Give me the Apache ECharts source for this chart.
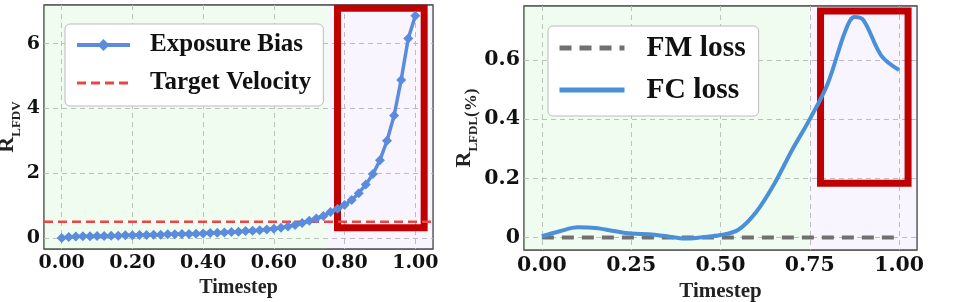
<!DOCTYPE html>
<html><head><meta charset="utf-8">
<script src="https://cdn.jsdelivr.net/npm/echarts@6/dist/echarts.min.js"></script>
<style>html,body{margin:0;padding:0;background:#fff}#c{width:961px;height:302px}</style>
</head><body><div id="c"></div>
<script>
// ---- Left panel data ----
const leftX = [0.00,0.02,0.04,0.06,0.08,0.10,0.12,0.14,0.16,0.18,0.20,0.22,0.24,0.26,0.28,0.30,0.32,0.34,0.36,0.38,0.40,0.42,0.44,0.46,0.48,0.50,0.52,0.54,0.56,0.58,0.60,0.62,0.64,0.66,0.68,0.70,0.72,0.74,0.76,0.78,0.80,0.82,0.84,0.86,0.88,0.90,0.92,0.94,0.96,0.98,1.00];
const exposureBias = [0.00,0.03,0.04,0.05,0.05,0.06,0.06,0.07,0.07,0.08,0.08,0.09,0.09,0.10,0.10,0.11,0.11,0.12,0.12,0.13,0.14,0.15,0.16,0.17,0.18,0.19,0.21,0.22,0.24,0.26,0.28,0.31,0.35,0.40,0.46,0.53,0.60,0.68,0.80,0.90,1.02,1.17,1.38,1.65,1.97,2.40,3.00,3.78,4.88,6.16,6.86];
const targetVelocity = 0.5;
const leftXTicks = [0, 0.2, 0.4, 0.6, 0.8, 1.0];
const leftYTicks = [0, 2, 4, 6];
const leftXRange = [-0.05, 1.05];
const leftYRange = [-0.3425, 7.1925];
const leftStageSplit = 0.75;
const leftBox = [[0.78, 7.09], [1.025, 0.31]];

// ---- Right panel data ----
const fcX = [0.00,0.05,0.10,0.15,0.20,0.25,0.30,0.35,0.40,0.45,0.50,0.55,0.60,0.65,0.70,0.75,0.80,0.85,0.875,0.90,0.95,1.00];
const fcLoss = [0.004,0.021,0.034,0.032,0.022,0.013,0.011,0.004,-0.004,0.001,0.008,0.026,0.086,0.18,0.295,0.40,0.52,0.70,0.745,0.735,0.615,0.566];
const fmX = [0.00, 1.00];
const fmLoss = [0, 0];
const rightXTicks = [0, 0.25, 0.5, 0.75, 1.0];
const rightYTicks = [0, 0.2, 0.4, 0.6];
const rightXRange = [-0.05, 1.05];
const rightYRange = [-0.0425, 0.7825];
const rightStageSplit = 0.75;
const rightBox = [[0.78, 0.766], [1.025, 0.183]];

const SERIF = 'Liberation Serif';
const TICKFONT = 'DejaVu Serif';
const green = 'rgba(190,240,190,0.22)';
const purple = 'rgba(215,200,250,0.18)';
const boxRed = '#c00000';

function zip(a, b) { return a.map((v, i) => [v, b[i]]); }

function xAxisCfg(idx, range, ticks, fs, name, nameFs, digits, margin, gap) {
  return {
    type: 'value', gridIndex: idx, min: range[0], max: range[1],
    name: name, nameLocation: 'middle', nameGap: gap,
    nameTextStyle: { fontFamily: SERIF, fontWeight: 'bold', fontSize: nameFs, color: '#222' },
    axisLine: { show: false }, axisTick: { show: false, customValues: ticks },
    axisLabel: { customValues: ticks, margin: margin, fontFamily: TICKFONT, fontWeight: 'bold', fontSize: fs, color: '#111',
      formatter: v => v.toFixed(digits) },
    splitLine: { show: true, lineStyle: { color: '#b8b8b8', type: [5, 4], width: 1 } }
  };
}
function yAxisCfg(idx, range, ticks, fs, name, gap, fmt) {
  return {
    type: 'value', gridIndex: idx, min: range[0], max: range[1],
    name: name, nameLocation: 'middle', nameGap: gap, nameRotate: 90,
    nameTextStyle: { fontFamily: SERIF, fontWeight: 'bold', color: '#222',
      rich: {
        R: { fontFamily: SERIF, fontWeight: 'bold', fontSize: 22, color: '#222', verticalAlign: 'bottom', padding: [0, 0, 5, 0] },
        s: { fontFamily: SERIF, fontWeight: 'bold', fontSize: 13, color: '#222', verticalAlign: 'bottom' },
        p: { fontFamily: SERIF, fontWeight: 'bold', fontSize: 17, color: '#222', verticalAlign: 'bottom' }
      } },
    axisLine: { show: false }, axisTick: { show: false, customValues: ticks },
    axisLabel: { customValues: ticks, margin: 4, fontFamily: TICKFONT, fontWeight: 'bold', fontSize: fs, color: '#111', formatter: fmt },
    splitLine: { show: true, lineStyle: { color: '#b8b8b8', type: [5, 4], width: 1 } }
  };
}

function bgSeries(xi, yi, range, split) {
  return {
    type: 'line', xAxisIndex: xi, yAxisIndex: yi, data: [], silent: true, z: 1,
    markArea: { silent: true, data: [
      [{ xAxis: range[0], itemStyle: { color: green } }, { xAxis: split }],
      [{ xAxis: split, itemStyle: { color: purple } }, { xAxis: range[1] }]
    ] }
  };
}
function boxSeries(xi, yi, box) {
  return {
    type: 'line', xAxisIndex: xi, yAxisIndex: yi, data: [], silent: true, z: 10,
    markArea: { silent: true, itemStyle: { color: 'rgba(0,0,0,0)', borderColor: boxRed, borderWidth: 7 },
      data: [[{ coord: box[0] }, { coord: box[1] }]] }
  };
}
const hideSym = { opacity: 0 };

const chart = echarts.init(document.getElementById('c'), null, { renderer: 'canvas' });
chart.setOption({
  animation: false,
  backgroundColor: '#fff',
  grid: [
    { left: 44, right: 528, top: 5, bottom: 53, outerBoundsMode: 'none', containLabel: false, show: true, borderColor: '#333', borderWidth: 1.3, backgroundColor: 'transparent' },
    { left: 524, right: 44, top: 6, bottom: 52, outerBoundsMode: 'none', containLabel: false, show: true, borderColor: '#333', borderWidth: 1.3, backgroundColor: 'transparent' }
  ],
  xAxis: [
    xAxisCfg(0, leftXRange, leftXTicks, 19, 'Timestep', 20, 2, 5, 29),
    xAxisCfg(1, rightXRange, rightXTicks, 20.5, 'Timestep', 21, 2, 5, 27)
  ],
  yAxis: [
    yAxisCfg(0, leftYRange, leftYTicks, 19, '{R|R}{s|LFDV}', 15, v => String(v)),
    yAxisCfg(1, rightYRange, rightYTicks, 20.5, '{R|R}{s|LFDL}{p|(%)}', 39, v => v === 0 ? '0' : v.toFixed(1))
  ],
  legend: [
    { left: 65, top: 24, orient: 'vertical',
      data: [{ name: 'Exposure Bias', lineStyle: { width: 4 } }, { name: 'Target Velocity', itemStyle: hideSym, lineStyle: { width: 3 } }],
      itemWidth: 53, itemHeight: 15, itemGap: 10, padding: [7, 12, 9, 10],
      backgroundColor: '#fff', borderColor: '#bbb', borderWidth: 1, borderRadius: 5,
      textStyle: { fontFamily: SERIF, fontWeight: 'bold', fontSize: 25, color: '#111', lineHeight: 28, padding: [0, 0, 0, 15] } },
    { left: 548, top: 26, orient: 'vertical',
      data: [{ name: 'FM loss', itemStyle: hideSym, lineStyle: { width: 5 } }, { name: 'FC loss', itemStyle: hideSym, lineStyle: { width: 5 } }],
      itemWidth: 65, itemHeight: 14, itemGap: 10, padding: [6, 13, 10, 9],
      backgroundColor: '#fff', borderColor: '#bbb', borderWidth: 1, borderRadius: 5,
      textStyle: { fontFamily: SERIF, fontWeight: 'bold', fontSize: 29.5, color: '#111', lineHeight: 32, padding: [0, 0, 0, 17] } }
  ],
  series: [
    bgSeries(0, 0, leftXRange, leftStageSplit),
    bgSeries(1, 1, rightXRange, rightStageSplit),
    { name: 'Target Velocity', type: 'line', xAxisIndex: 0, yAxisIndex: 0, z: 3,
      data: [[leftXRange[0], targetVelocity], [leftXRange[1], targetVelocity]],
      symbol: 'none', lineStyle: { color: '#ee4444', width: 2.5, type: [9, 5] }, itemStyle: { color: '#ee4444' } },
    { name: 'Exposure Bias', type: 'line', xAxisIndex: 0, yAxisIndex: 0, z: 4,
      data: zip(leftX, exposureBias), symbol: 'diamond', symbolSize: 10, showAllSymbol: true,
      lineStyle: { color: '#5b8bdc', width: 3.5 }, itemStyle: { color: '#5b8bdc' } },
    { name: 'FM loss', type: 'line', xAxisIndex: 1, yAxisIndex: 1, z: 3,
      data: zip(fmX, fmLoss), symbol: 'none',
      lineStyle: { color: '#707070', width: 4, type: [12, 8] }, itemStyle: { color: '#707070' } },
    { name: 'FC loss', type: 'line', xAxisIndex: 1, yAxisIndex: 1, z: 4,
      data: zip(fcX, fcLoss), symbol: 'none', smooth: 0.35,
      lineStyle: { color: '#4a90d9', width: 4 }, itemStyle: { color: '#4a90d9' } },
    boxSeries(0, 0, leftBox),
    boxSeries(1, 1, rightBox)
  ]
});
</script></body></html>
